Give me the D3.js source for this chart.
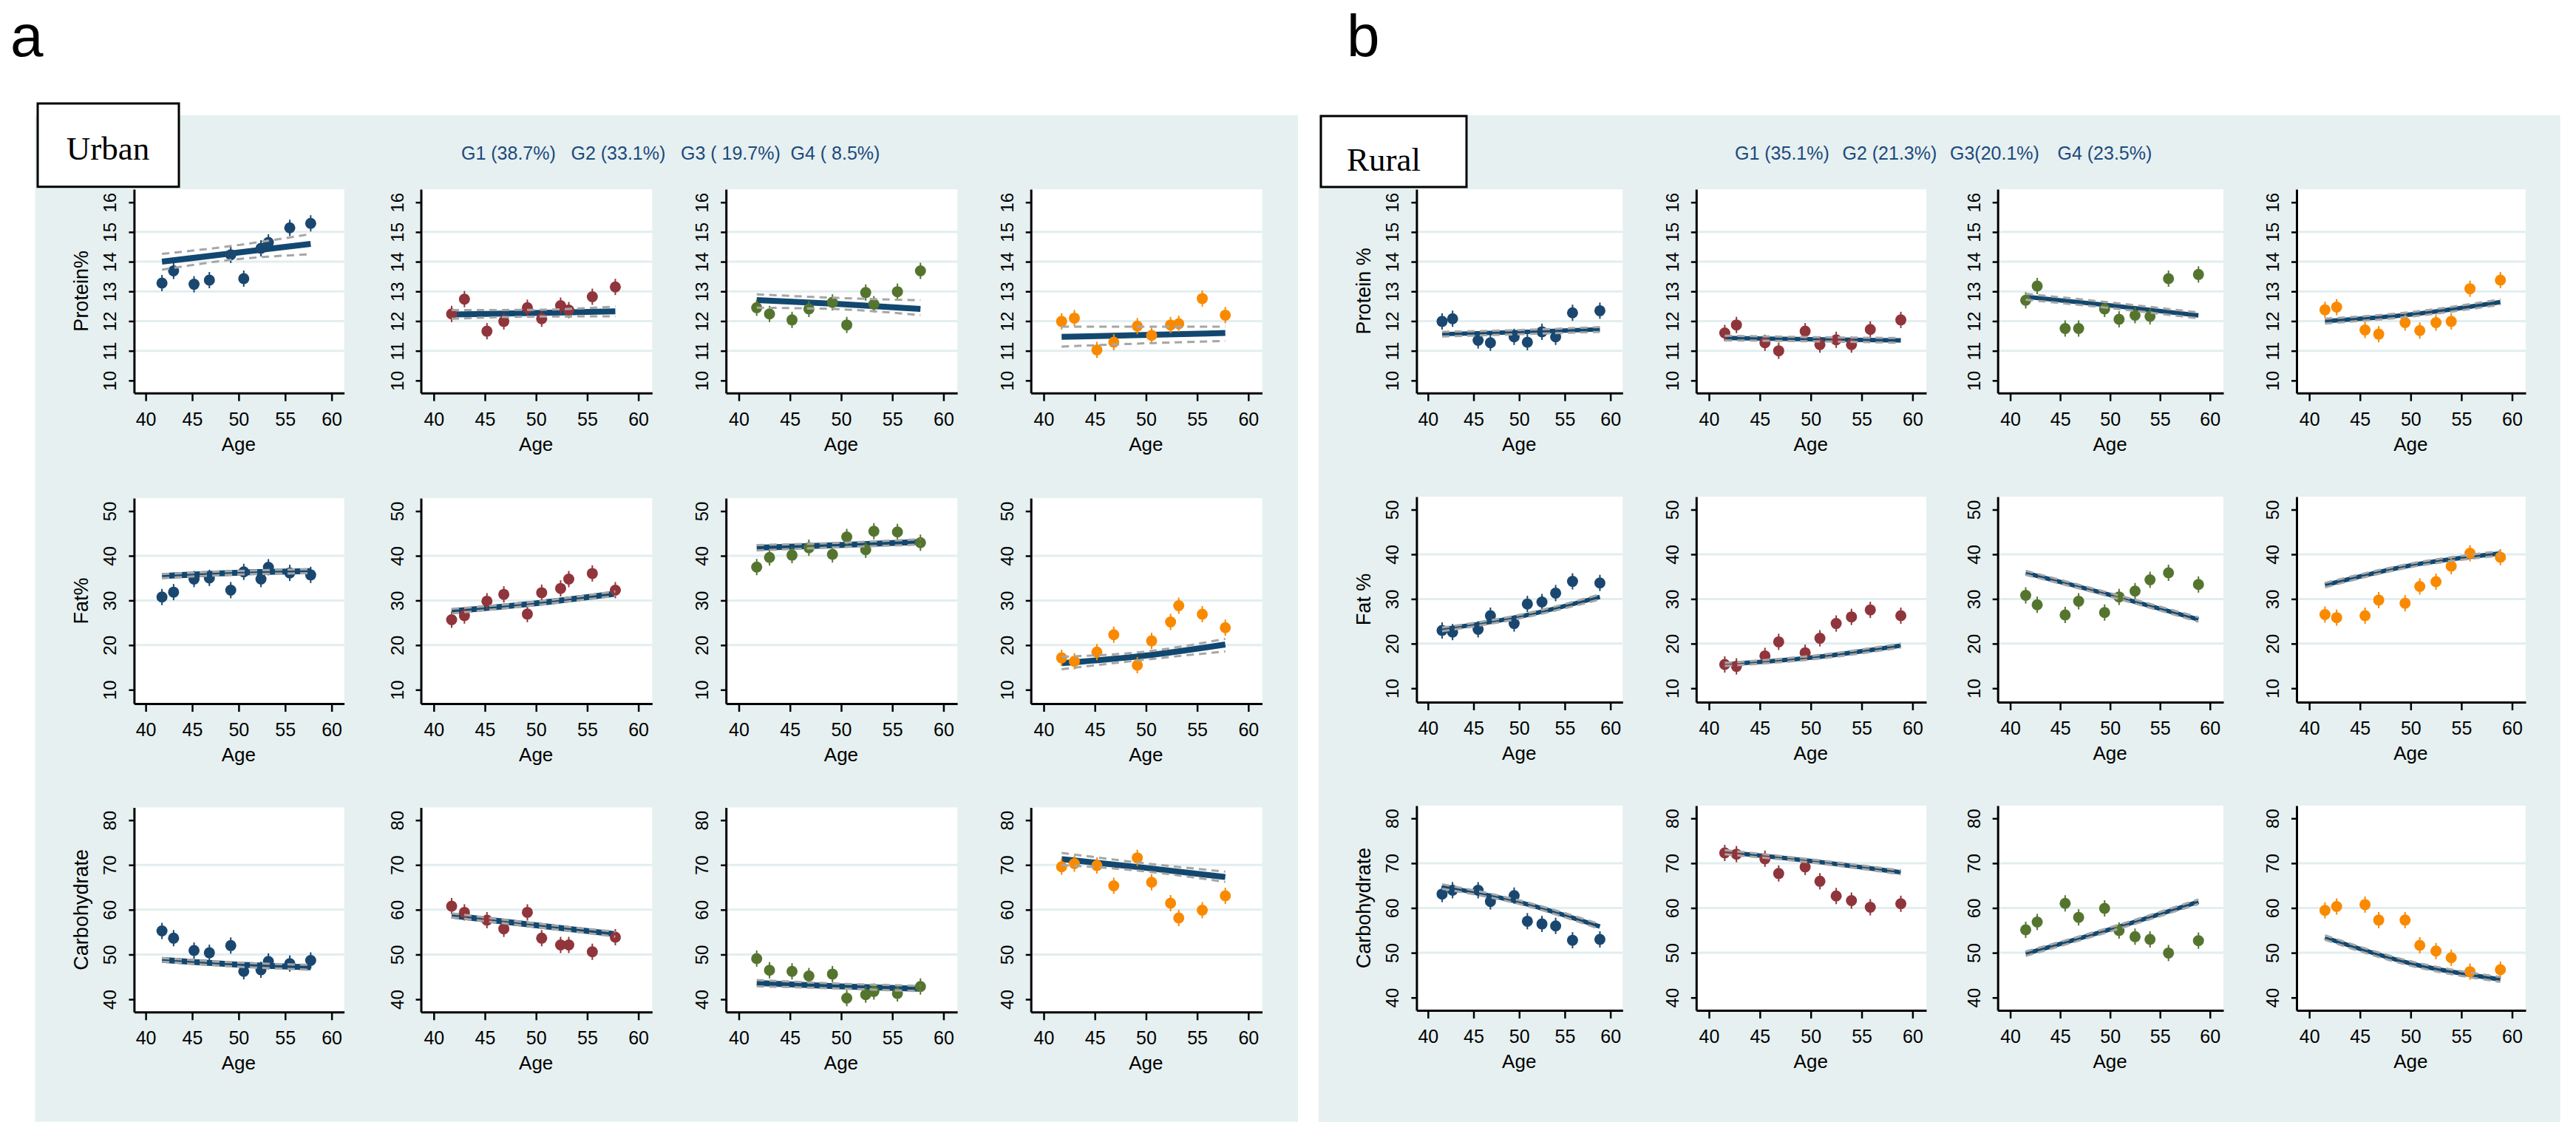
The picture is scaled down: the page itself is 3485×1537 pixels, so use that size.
<!DOCTYPE html>
<html>
<head>
<meta charset="utf-8">
<script src="https://cdn.jsdelivr.net/npm/d3@7"></script>
<style>
  body { margin: 0; background: #fff; }
  svg { display: block; }
</style>
</head>
<body>
<script>
// ---- data ----
var groups = ['G1', 'G2', 'G3', 'G4'];
var nutrients = ['Protein', 'Fat', 'Carbohydrate'];
var urbanShares = ['G1 (38.7%)', 'G2 (33.1%)', 'G3 ( 19.7%)', 'G4 ( 8.5%)'];
var ruralShares = ['G1 (35.1%)', 'G2 (21.3%)', 'G3(20.1%)', 'G4 (23.5%)'];
var urbanYTitles = ['Protein%', 'Fat%', 'Carbohydrate'];
var ruralYTitles = ['Protein %', 'Fat %', 'Carbohydrate'];
var xTicks = [40, 45, 50, 55, 60];
var yTicks = [[10, 11, 12, 13, 14, 15, 16], [10, 20, 30, 40, 50], [40, 50, 60, 70, 80]];

// ages of the observed means
var urbanAges = [41.75, 43.0, 45.2, 46.85, 49.15, 50.55, 52.4, 53.2, 55.5, 57.75];
var ruralAges = [41.55, 42.7, 45.5, 46.85, 49.45, 50.9, 52.5, 54.0, 55.85, 58.85];
// ages where the fitted curve / CI were read (start, middle, end)
var urbanKnots = [41.75, 49.75, 57.75];
var ruralKnots = [41.55, 50.2, 58.85];

// observed means, one row per group
var urbanProtein = [
  [13.28, 13.69, 13.24, 13.38, 14.23, 13.43, 14.45, 14.65, 15.14, 15.29],
  [12.24, 12.74, 11.66, 11.99, 12.45, 12.08, 12.52, 12.37, 12.82, 13.15],
  [12.45, 12.24, 12.04, 12.41, 12.63, 11.87, 12.96, 12.57, 12.99, 13.69],
  [11.99, 12.10, 11.03, 11.29, 11.83, 11.52, 11.87, 11.91, 12.76, 12.20]
];
var urbanFat = [
  [30.76, 31.86, 34.79, 35.05, 32.30, 36.40, 34.79, 37.43, 36.16, 35.72],
  [25.69, 26.62, 29.83, 31.36, 26.95, 31.74, 32.69, 34.79, 36.04, 32.30],
  [37.47, 39.63, 40.14, 41.80, 40.33, 44.21, 41.35, 45.50, 45.34, 42.92],
  [17.14, 16.37, 18.43, 22.33, 15.51, 20.95, 25.18, 28.82, 26.92, 23.89]
];
var urbanCarb = [
  [55.26, 53.65, 50.89, 50.39, 52.00, 46.24, 46.59, 48.46, 47.98, 48.67],
  [60.80, 59.41, 57.67, 55.74, 59.41, 53.65, 52.13, 52.13, 50.61, 53.87],
  [49.09, 46.49, 46.24, 45.20, 45.63, 40.26, 41.04, 41.74, 41.31, 42.86],
  [69.60, 70.30, 69.86, 65.35, 71.59, 66.13, 61.46, 58.17, 59.90, 63.10]
];
var ruralProtein = [
  [11.99, 12.08, 11.35, 11.27, 11.47, 11.29, 11.64, 11.47, 12.28, 12.35],
  [11.60, 11.87, 11.27, 11.00, 11.66, 11.21, 11.37, 11.21, 11.72, 12.04],
  [12.70, 13.18, 11.75, 11.75, 12.41, 12.06, 12.20, 12.16, 13.43, 13.57],
  [12.38, 12.47, 11.70, 11.56, 11.95, 11.68, 11.95, 11.99, 13.09, 13.38]
];
var ruralFat = [
  [22.94, 22.59, 23.20, 26.26, 24.51, 28.88, 29.31, 31.32, 33.94, 33.59],
  [15.34, 14.91, 17.26, 20.40, 17.96, 21.20, 24.51, 25.99, 27.56, 26.26],
  [30.80, 28.70, 26.43, 29.48, 26.96, 30.45, 31.75, 34.29, 35.86, 33.24],
  [26.51, 25.82, 26.26, 29.75, 29.05, 32.80, 33.86, 37.35, 40.23, 39.35]
];
var ruralCarb = [
  [63.11, 63.97, 63.97, 61.46, 62.77, 57.05, 56.44, 56.01, 52.80, 52.98],
  [72.28, 72.02, 70.99, 67.70, 69.17, 65.96, 62.67, 61.64, 60.17, 60.94],
  [55.13, 56.87, 61.03, 57.91, 59.92, 54.97, 53.59, 52.98, 49.95, 52.71],
  [59.47, 60.33, 60.76, 57.30, 57.30, 51.67, 50.38, 48.91, 45.79, 46.23]
];

// fitted trajectories at the knots, with lower / upper confidence bands
var urbanProteinFit = [[14.00, 14.30, 14.60], [12.22, 12.27, 12.33], [12.71, 12.58, 12.41], [11.47, 11.53, 11.60]];
var urbanProteinLo  = [[13.73, 14.08, 14.25], [12.08, 12.15, 12.16], [12.45, 12.40, 12.20], [11.14, 11.25, 11.33]];
var urbanProteinHi  = [[14.26, 14.55, 14.93], [12.37, 12.38, 12.49], [12.90, 12.78, 12.70], [11.81, 11.81, 11.81]];
var urbanFatFit = [[35.45, 36.2, 36.55], [27.6, 29.3, 31.5], [41.8, 42.4, 43.1], [15.95, 17.6, 20.15]];
var urbanFatLo  = [[35.0, 35.8, 36.1], [27.1, 28.9, 31.0], [41.2, 41.9, 42.5], [14.6, 16.7, 18.6]];
var urbanFatHi  = [[35.9, 36.6, 37.0], [28.1, 29.7, 32.0], [42.4, 42.9, 43.7], [17.4, 18.5, 21.4]];
var urbanCarbFit = [[48.8, 47.75, 47.15], [58.7, 56.6, 54.55], [43.65, 42.9, 42.35], [71.3, 69.4, 67.3]];
var urbanCarbLo  = [[48.4, 47.3, 46.6], [58.3, 56.2, 54.0], [42.9, 42.4, 41.8], [70.0, 68.6, 66.2]];
var urbanCarbHi  = [[49.2, 48.2, 47.7], [59.2, 57.0, 55.1], [44.3, 43.5, 43.0], [72.7, 70.4, 68.5]];

var ruralProteinFit = [[11.56, 11.63, 11.72], [11.43, 11.39, 11.35], [12.82, 12.52, 12.19], [12.00, 12.23, 12.64]];
var ruralProteinLo  = [[11.48, 11.56, 11.64], [11.35, 11.32, 11.27], [12.72, 12.43, 12.09], [11.92, 12.16, 12.55]];
var ruralProteinHi  = [[11.64, 11.70, 11.80], [11.51, 11.46, 11.43], [12.92, 12.62, 12.29], [12.08, 12.31, 12.73]];
var ruralFatFit = [[23.2, 26.1, 30.45], [15.35, 16.9, 19.55], [35.85, 30.8, 25.4], [33.1, 37.6, 40.2]];
var ruralFatLo  = [[22.8, 25.7, 29.9], [15.0, 16.5, 19.1], [35.4, 30.4, 24.9], [32.6, 37.2, 39.7]];
var ruralFatHi  = [[23.6, 26.5, 31.0], [15.7, 17.3, 20.0], [36.3, 31.2, 25.9], [33.6, 38.0, 40.7]];
var ruralCarbFit = [[64.8, 61.2, 55.85], [72.45, 70.45, 67.95], [49.8, 55.35, 61.4], [53.4, 47.5, 44.05]];
var ruralCarbLo  = [[64.3, 60.8, 55.3], [72.0, 70.1, 67.5], [49.3, 54.9, 60.9], [52.9, 47.0, 43.5]];
var ruralCarbHi  = [[65.3, 61.6, 56.4], [72.9, 70.8, 68.4], [50.3, 55.8, 61.9], [53.9, 48.0, 44.6]];

// ---- styling ----
var BG = '#e6f0f0';
var GRID = '#e2eeef';
var LINE = '#124870';
var CI = '#a6a6a6';
var colors = ['#1a476f', '#90353b', '#55752f', '#f98a00'];
var SANS = '"Liberation Sans", Arial, sans-serif';
var SERIF = '"Liberation Serif", "Times New Roman", serif';

var svg = d3.select('body').append('svg')
  .attr('width', 3485)
  .attr('height', 1537);

svg.append('rect').attr('width', 3485).attr('height', 1537).attr('fill', '#fff');

// panel letters
svg.append('text').attr('x', 14).attr('y', 76)
  .attr('font-family', SANS).attr('font-size', 80).text('a');
svg.append('text').attr('x', 1822).attr('y', 76)
  .attr('font-family', SANS).attr('font-size', 80).text('b');

var xDomain = [38.75, 61.35];
var yDomains = [[9.58, 16.44], [6.9, 52.9], [37.15, 82.85]];

var urban = {
  bg: [47.5, 155.7, 1708.5, 1362],
  box: [51, 140, 191, 112.7], boxLabel: 'Urban', boxText: [146, 216, 'middle'],
  legendX: 624, legendStep: 148.5, shares: urbanShares,
  cols: [[181.4, 465.6], [569.5, 882.3], [982.2, 1295.1], [1394.7, 1707.5]],
  rows: [[531.7, 256], [952, 674], [1369.3, 1092.4]],
  ages: urbanAges, knots: urbanKnots, titles: urbanYTitles, lineWidth: 8,
  obs: [urbanProtein, urbanFat, urbanCarb],
  fit: [urbanProteinFit, urbanFatFit, urbanCarbFit],
  lo: [urbanProteinLo, urbanFatLo, urbanCarbLo],
  hi: [urbanProteinHi, urbanFatHi, urbanCarbHi]
};

var rural = {
  bg: [1784, 156, 1679.5, 1362],
  box: [1787, 157, 197, 96], boxLabel: 'Rural', boxText: [1822, 231, 'start'],
  legendX: 2347, legendStep: 145.5, shares: ruralShares,
  cols: [[1916.4, 2195.3], [2294.8, 2606], [2702.7, 3008], [3107, 3417]],
  rows: [[531.7, 256], [950, 672], [1367, 1090]],
  ages: ruralAges, knots: ruralKnots, titles: ruralYTitles, lineWidth: 6,
  obs: [ruralProtein, ruralFat, ruralCarb],
  fit: [ruralProteinFit, ruralFatFit, ruralCarbFit],
  lo: [ruralProteinLo, ruralFatLo, ruralCarbLo],
  hi: [ruralProteinHi, ruralFatHi, ruralCarbHi]
};

function drawPanel(reg, ri, ci) {
  var col = reg.cols[ci], row = reg.rows[ri];
  var x = d3.scaleLinear().domain(xDomain).range(col);
  var y = d3.scaleLinear().domain(yDomains[ri]).range(row);
  var g = svg.append('g').attr('class', 'panel');

  g.append('rect')
    .attr('x', col[0]).attr('y', row[1])
    .attr('width', col[1] - col[0]).attr('height', row[0] - row[1])
    .attr('fill', '#fff');

  // grid lines at the inner ticks only
  g.selectAll('line.grid').data(yTicks[ri].slice(1, -1)).enter()
    .append('line')
    .attr('x1', col[0]).attr('x2', col[1])
    .attr('y1', function(d) { return y(d); })
    .attr('y2', function(d) { return y(d); })
    .attr('stroke', GRID).attr('stroke-width', 3);

  var knots = reg.knots;
  var curve = d3.line()
    .x(function(d, i) { return x(knots[i]); })
    .y(function(d) { return y(d); })
    .curve(d3.curveMonotoneX);

  // fitted trajectory
  g.append('path').attr('d', curve(reg.fit[ri][ci]))
    .attr('fill', 'none').attr('stroke', LINE).attr('stroke-width', reg.lineWidth);

  // observed means
  var ages = reg.ages;
  var obs = reg.obs[ri][ci];
  g.selectAll('line.spike').data(obs).enter()
    .append('line')
    .attr('x1', function(d, i) { return x(ages[i]); })
    .attr('x2', function(d, i) { return x(ages[i]); })
    .attr('y1', function(d) { return y(d) - 11; })
    .attr('y2', function(d) { return y(d) + 11; })
    .attr('stroke', colors[ci]).attr('stroke-width', 2);
  g.selectAll('circle').data(obs).enter()
    .append('circle')
    .attr('cx', function(d, i) { return x(ages[i]); })
    .attr('cy', function(d) { return y(d); })
    .attr('r', 7.5)
    .attr('fill', colors[ci]);

  // confidence band
  [reg.lo[ri][ci], reg.hi[ri][ci]].forEach(function(band) {
    g.append('path').attr('d', curve(band))
      .attr('fill', 'none').attr('stroke', CI)
      .attr('stroke-width', 3).attr('stroke-dasharray', '10,7');
  });

  // y axis
  var ya = g.append('g')
    .attr('transform', 'translate(' + col[0] + ',0)')
    .call(d3.axisLeft(y).tickValues(yTicks[ri]).tickFormat(d3.format('d'))
      .tickSize(7).tickSizeOuter(0));
  ya.select('.domain').attr('stroke', '#000').attr('stroke-width', 3);
  ya.selectAll('.tick line').attr('stroke', '#000').attr('stroke-width', 2.5);
  ya.selectAll('text')
    .attr('transform', 'rotate(-90)')
    .attr('x', 0).attr('y', -24).attr('dy', null)
    .attr('text-anchor', 'middle')
    .attr('font-family', SANS).attr('font-size', 24).attr('fill', '#000');

  // x axis
  var xa = g.append('g')
    .attr('transform', 'translate(0,' + row[0] + ')')
    .call(d3.axisBottom(x).tickValues(xTicks).tickFormat(d3.format('d'))
      .tickSize(11).tickSizeOuter(0));
  xa.select('.domain').attr('stroke', '#000').attr('stroke-width', 3);
  xa.selectAll('.tick line').attr('stroke', '#000').attr('stroke-width', 2.5);
  xa.selectAll('text')
    .attr('y', 44).attr('dy', null)
    .attr('font-family', SANS).attr('font-size', 25).attr('fill', '#000');

  g.append('text')
    .attr('x', (x(40) + x(60)) / 2).attr('y', row[0] + 78)
    .attr('text-anchor', 'middle')
    .attr('font-family', SANS).attr('font-size', 26)
    .text('Age');

  if (ci === 0) {
    var cy = (row[0] + row[1]) / 2;
    g.append('text')
      .attr('transform', 'translate(' + (col[0] - 62) + ',' + cy + ') rotate(-90)')
      .attr('text-anchor', 'middle')
      .attr('font-family', SANS).attr('font-size', 27)
      .text(reg.titles[ri]);
  }
}

function drawRegion(reg) {
  svg.append('rect')
    .attr('x', reg.bg[0]).attr('y', reg.bg[1])
    .attr('width', reg.bg[2]).attr('height', reg.bg[3])
    .attr('fill', BG);

  svg.selectAll(null).data(reg.shares).enter()
    .append('text')
    .attr('x', function(d, i) { return reg.legendX + i * reg.legendStep; })
    .attr('y', 216)
    .attr('font-family', SANS).attr('font-size', 25)
    .attr('fill', '#1c4a7c')
    .text(function(d) { return d; });

  nutrients.forEach(function(n, ri) {
    groups.forEach(function(gname, ci) {
      drawPanel(reg, ri, ci);
    });
  });

  svg.append('rect')
    .attr('x', reg.box[0]).attr('y', reg.box[1])
    .attr('width', reg.box[2]).attr('height', reg.box[3])
    .attr('fill', '#fff').attr('stroke', '#000').attr('stroke-width', 3);
  svg.append('text')
    .attr('x', reg.boxText[0]).attr('y', reg.boxText[1])
    .attr('text-anchor', reg.boxText[2])
    .attr('font-family', SERIF).attr('font-size', 45)
    .text(reg.boxLabel);
}

drawRegion(urban);
drawRegion(rural);
</script>
</body>
</html>
